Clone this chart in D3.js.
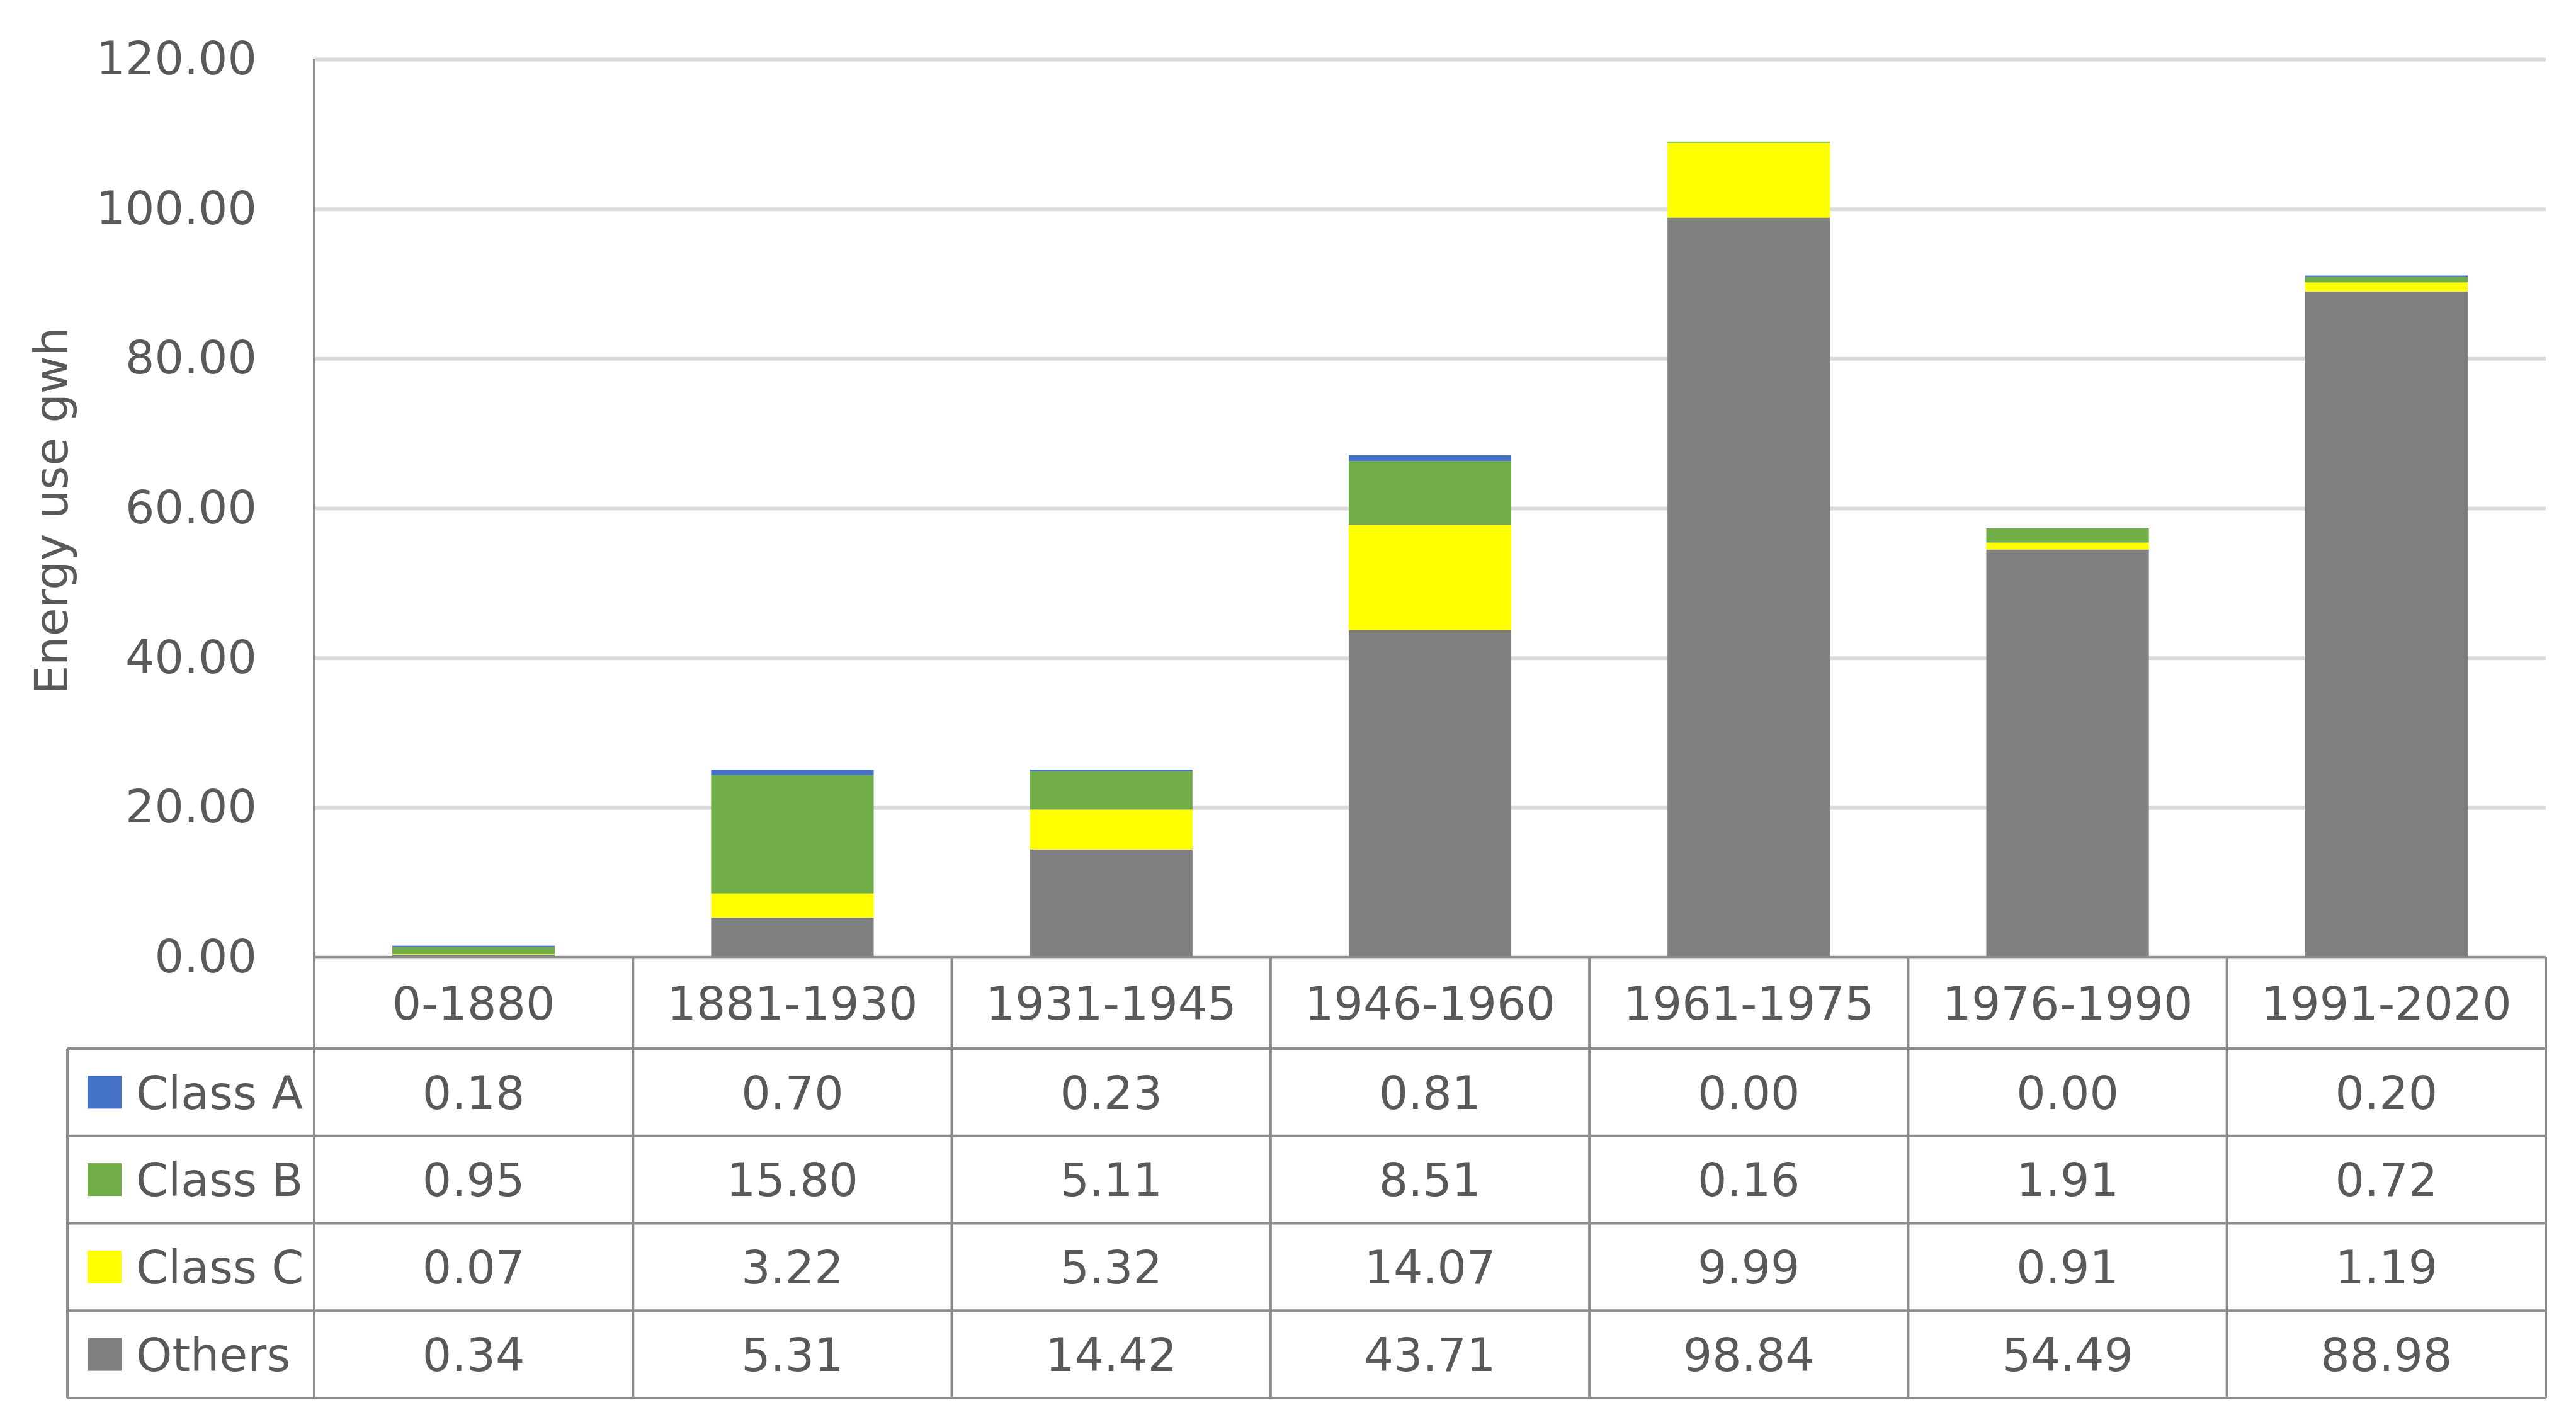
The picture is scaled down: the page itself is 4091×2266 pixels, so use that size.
<!DOCTYPE html>
<html>
<head>
<meta charset="utf-8">
<script src="https://cdn.jsdelivr.net/npm/d3@7/dist/d3.min.js"></script>
<style>
  html, body { margin: 0; padding: 0; background: #ffffff; }
  svg { display: block; }
  text { font-family: "DejaVu Sans", Verdana, sans-serif; fill: #595959; }
</style>
</head>
<body>
<svg id="chart" width="4091" height="2266"></svg>
<script>
// ---- data ----
const categories = ["0-1880", "1881-1930", "1931-1945", "1946-1960", "1961-1975", "1976-1990", "1991-2020"];
const classA = [0.18, 0.70, 0.23, 0.81, 0.00, 0.00, 0.20];
const classB = [0.95, 15.80, 5.11, 8.51, 0.16, 1.91, 0.72];
const classC = [0.07, 3.22, 5.32, 14.07, 9.99, 0.91, 1.19];
const others = [0.34, 5.31, 14.42, 43.71, 98.84, 54.49, 88.98];
const seriesNames = ["Class A", "Class B", "Class C", "Others"];
const seriesValues = [classA, classB, classC, others];
const seriesColors = ["#4472C4", "#70AD47", "#FFFF00", "#7F7F7F"];
const yTicks = [0, 20, 40, 60, 80, 100, 120];
const yTitle = "Energy use gwh";

// ---- layout ----
const W = 4091, H = 2266;
const plotL = 499, plotR = 4043, plotT = 94, plotB = 1520;
const headerH = 145, rowH = 138.75;
const tableL = 107;
const fs = 73;
const gridColor = "#D9D9D9", lineColor = "#8C8C8C";

const svg = d3.select("#chart");
svg.append("rect").attr("width", W).attr("height", H).attr("fill", "#ffffff");

const y = d3.scaleLinear().domain([0, 120]).range([plotB, plotT]);
const xCol = d3.scaleBand().domain(categories).range([plotL, plotR]).padding(0);
const xBar = d3.scaleBand().domain(categories).range([plotL, plotR]).paddingInner(0.49).paddingOuter(0.245);

// gridlines
svg.append("g")
  .attr("transform", `translate(${plotL},0)`)
  .call(d3.axisLeft(y).tickValues(yTicks).tickSize(-(plotR - plotL)).tickFormat(""))
  .call(g => g.select(".domain").remove())
  .call(g => g.selectAll(".tick line").attr("stroke", gridColor).attr("stroke-width", 6));

// y axis labels
svg.append("g")
  .attr("transform", `translate(${plotL},0)`)
  .call(d3.axisLeft(y).tickValues(yTicks).tickSize(0).tickPadding(91).tickFormat(d3.format(".2f")))
  .call(g => g.select(".domain").remove())
  .call(g => g.selectAll(".tick text")
    .attr("font-size", fs)
    .attr("font-family", "'DejaVu Sans', Verdana, sans-serif")
    .attr("fill", "#595959"));

// y title
svg.append("text")
  .attr("transform", `translate(107, ${(plotT + plotB) / 2 + 4}) rotate(-90)`)
  .attr("text-anchor", "middle")
  .attr("font-size", fs)
  .text(yTitle);

// stacked bars
const rows = categories.map((c, i) => ({
  cat: c,
  "Class A": classA[i], "Class B": classB[i], "Class C": classC[i], "Others": others[i]
}));
const stackKeys = ["Others", "Class C", "Class B", "Class A"];
const stacked = d3.stack().keys(stackKeys)(rows);
const colorOf = d3.scaleOrdinal().domain(seriesNames).range(seriesColors);

svg.append("g").selectAll("g")
  .data(stacked)
  .join("g")
  .attr("fill", d => colorOf(d.key))
  .selectAll("rect")
  .data(d => d)
  .join("rect")
  .attr("x", d => xBar(d.data.cat))
  .attr("width", xBar.bandwidth())
  .attr("y", d => y(d[1]))
  .attr("height", d => Math.max(0, y(d[0]) - y(d[1])));

// ---- data table ----
const tableB = plotB + headerH + rowH * seriesNames.length;
const tbl = svg.append("g");
const line = (x1, y1, x2, y2) => tbl.append("line")
  .attr("x1", x1).attr("y1", y1).attr("x2", x2).attr("y2", y2)
  .attr("stroke", lineColor).attr("stroke-width", 4);

// header top line (axis baseline)
line(plotL, plotB, plotR, plotB);
// row lines
seriesNames.forEach((s, i) => {
  const yy = plotB + headerH + rowH * i;
  line(tableL, yy, plotR, yy);
});
line(tableL, tableB, plotR, tableB);
// vertical lines
line(tableL, plotB + headerH, tableL, tableB);
line(plotL, plotT, plotL, tableB);
categories.forEach(c => {
  const xx = xCol(c) + xCol.bandwidth();
  line(xx, plotB, xx, tableB);
});

// header labels
tbl.selectAll("text.hdr")
  .data(categories)
  .join("text")
  .attr("class", "hdr")
  .attr("x", d => xCol(d) + xCol.bandwidth() / 2)
  .attr("y", plotB + headerH / 2)
  .attr("dy", "0.36em")
  .attr("text-anchor", "middle")
  .attr("font-size", fs)
  .text(d => d);

// rows
seriesNames.forEach((s, i) => {
  const cy = plotB + headerH + rowH * i + rowH / 2;
  tbl.append("rect")
    .attr("x", 139).attr("y", cy - 26)
    .attr("width", 54).attr("height", 52)
    .attr("fill", seriesColors[i]);
  tbl.append("text")
    .attr("x", 216).attr("y", cy)
    .attr("dy", "0.36em")
    .attr("font-size", fs)
    .text(s);
  tbl.selectAll(null)
    .data(seriesValues[i])
    .join("text")
    .attr("x", (d, j) => xCol(categories[j]) + xCol.bandwidth() / 2)
    .attr("y", cy)
    .attr("dy", "0.36em")
    .attr("text-anchor", "middle")
    .attr("font-size", fs)
    .text(d => d3.format(".2f")(d));
});
</script>
</body>
</html>
